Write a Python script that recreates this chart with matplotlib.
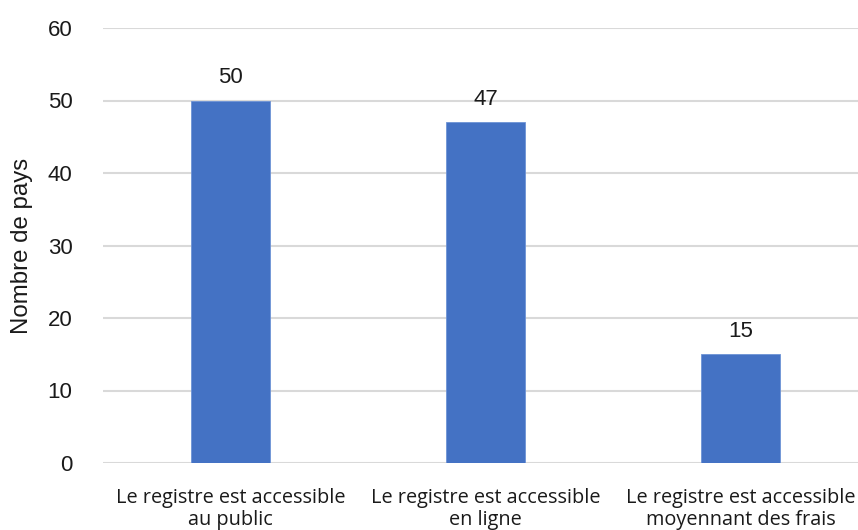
import matplotlib.pyplot as plt

categories = ["Le registre est accessible\nau public",
              "Le registre est accessible\nen ligne",
              "Le registre est accessible\nmoyennant des frais"]
values = [50, 47, 15]
yticks = [0, 10, 20, 30, 40, 50, 60]

fig = plt.figure(figsize=(8.58, 5.30), dpi=100)
ax = fig.add_axes([103 / 858, 67 / 530, 755 / 858, 435 / 530])

x = list(range(len(categories)))
bars = ax.bar(x, values, width=0.31, color="#4472C4", edgecolor="#6d93d6", linewidth=0.6, zorder=3)

for xi, v in zip(x, values):
    ax.annotate(str(v), (xi, v), xytext=(0, 9), textcoords="offset points",
                ha="center", va="bottom", fontsize=16, family="Liberation Sans", color="#1a1a1a")

ax.set_xlim(-0.5, 2.46)
ax.set_ylim(0, 60)
ax.set_yticks(yticks)
ax.set_yticklabels([str(t) for t in yticks], fontsize=16, family="Liberation Sans", color="#1a1a1a")
ax.set_xticks(x)
ax.set_xticklabels(categories, fontsize=14.3, family="Open Sans", color="#1a1a1a", linespacing=1.12)
ax.tick_params(axis="y", length=0, pad=22)
ax.tick_params(axis="x", length=0, pad=18)
ax.grid(axis="y", color="#d9d9d9", linewidth=1.5, zorder=0)
for s in ax.spines.values():
    s.set_visible(False)

ax.set_ylabel("Nombre de pays", fontsize=17.3, family="Liberation Sans", color="#1a1a1a")
ax.yaxis.set_label_coords((33 - 103) / 755, 0.5)

fig.savefig("out.png", dpi=100)
